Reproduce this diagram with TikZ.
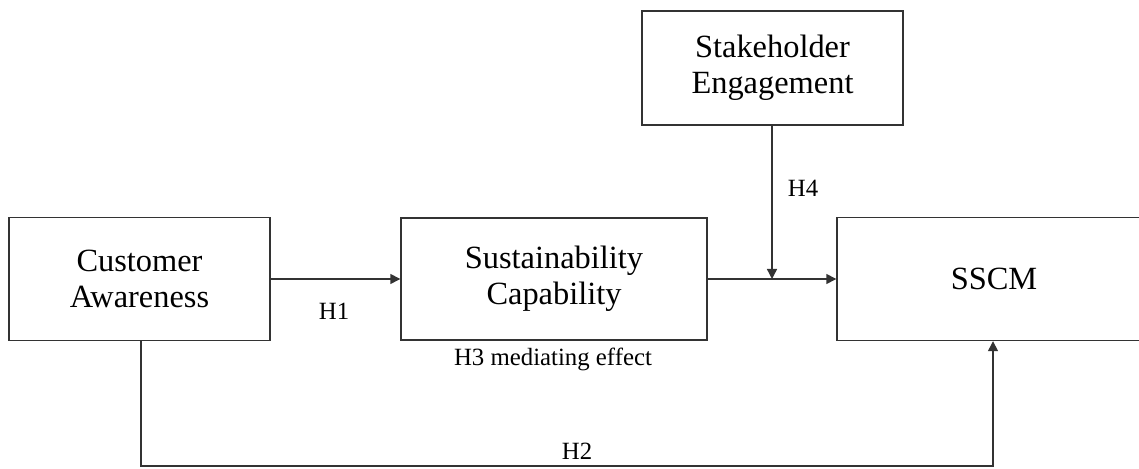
\documentclass[tikz,border=0pt]{standalone}
\usepackage{fontspec}
\setmainfont{Liberation Serif}
\usetikzlibrary{arrows.meta}
\begin{document}
\begin{tikzpicture}[x=0.5pt,y=-0.5pt,
  box/.style={draw=black!80,line width=0.7pt,rectangle,align=center,inner sep=0pt,
    font=\fontsize{16.2pt}{18pt}\selectfont},
  lab/.style={font=\fontsize{12.4pt}{14pt}\selectfont,inner sep=0pt},
  conn/.style={draw=black!80,line width=0.7pt,-{Triangle[length=5pt,width=5pt]}},
  plain/.style={draw=black!80,line width=0.7pt}]
\useasboundingbox (0,0) rectangle (1139,469);
\clip (0,0) rectangle (1139,469);
\node[box,minimum width=261*0.5pt,minimum height=123*0.5pt] (ca) at (139.5,279) {Customer\\Awareness};
\node[box,minimum width=306*0.5pt,minimum height=122*0.5pt] (sc) at (554,279) {Sustainability\\Capability};
\node[box,minimum width=261*0.5pt,minimum height=114*0.5pt] (se) at (772.5,68) {Stakeholder\\Engagement};
\node[box,minimum width=314*0.5pt,minimum height=123*0.5pt] (sscm) at (994,279) {SSCM};
\coordinate (j) at (772,279);
\coordinate (b1) at (141,466);
\coordinate (b2) at (993,466);
\draw[conn] (ca.east) -- (sc.west);
\draw[conn] (sc.east) -- (sscm.west);
\draw[conn] (se.south -| j) -- (j);
\draw[conn] (ca.south -| b1) -- (b1) -- (b2) -- (sscm.south -| b2);
\node[lab] (h1) at (334,311) {H1};
\node[lab] (h3) at (553,359) {H3 mediating effect};
\node[lab] (h4) at (803,188) {H4};
\node[lab] (h2) at (577,451) {H2};
\end{tikzpicture}
\end{document}
